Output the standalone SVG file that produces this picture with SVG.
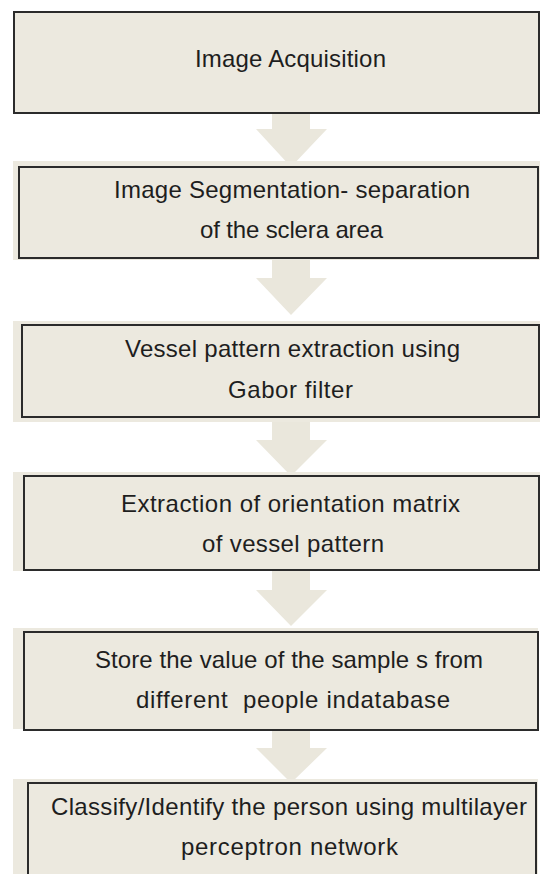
<svg xmlns="http://www.w3.org/2000/svg" width="540" height="874" viewBox="0 0 540 874">
<style>
.bg{fill:#ECE9DF;stroke:none}
.box{fill:#ECE9DF;stroke:#2b2b2b;stroke-width:2}
.arrow{fill:#EAE7DC;stroke:none}
text{font-family:"Liberation Sans",Arial,sans-serif;font-size:24px;fill:#1e1e1e;text-anchor:middle;white-space:pre}
</style>
<rect width="540" height="874" fill="#ffffff"/>
<g id="connectors">
<polygon class="arrow" points="272,113 310,113 310,129 327,129 291,167 256,129 272,129"/>
<polygon class="arrow" points="272,258 310,258 310,278 327,278 291,315 256,278 272,278"/>
<polygon class="arrow" points="272,417 310,417 310,440 327,440 291,476 256,440 272,440"/>
<polygon class="arrow" points="272,570 310,570 310,590 327,590 291,626 256,590 272,590"/>
<polygon class="arrow" points="272,730 310,730 310,748 327,748 291,783 256,748 272,748"/>
</g>
<g id="node1">
<rect class="box" x="14" y="12" width="525" height="101"/>
<text x="290.5" y="67" textLength="191">Image Acquisition</text>
</g>
<g id="node2">
<rect class="bg" x="13" y="161" width="527" height="99"/>
<rect class="box" x="19" y="167" width="519" height="91"/>
<text x="292" y="198" textLength="356">Image Segmentation- separation</text>
<text x="291.5" y="238" textLength="183">of the sclera area</text>
</g>
<g id="node3">
<rect class="bg" x="13" y="321" width="527" height="101"/>
<rect class="box" x="22" y="325" width="517" height="92"/>
<text x="292.5" y="357" textLength="335">Vessel pattern extraction using</text>
<text x="290.5" y="398" textLength="125">Gabor filter</text>
</g>
<g id="node4">
<rect class="bg" x="13" y="472" width="527" height="99"/>
<rect class="box" x="24" y="476" width="515" height="94"/>
<text x="290.5" y="512" textLength="339">Extraction of orientation matrix</text>
<text x="293" y="552" textLength="182">of vessel pattern</text>
</g>
<g id="node5">
<rect class="bg" x="13" y="628" width="525" height="101"/>
<rect class="box" x="24" y="632" width="514" height="98"/>
<text x="289" y="668" textLength="388">Store the value of the sample s from</text>
<text x="293" y="708" textLength="314">different  people indatabase</text>
</g>
<g id="node6">
<rect class="bg" x="13" y="779" width="525" height="100"/>
<rect class="box" x="28" y="783" width="508" height="95"/>
<text x="289" y="815" textLength="476">Classify/Identify the person using multilayer</text>
<text x="289.5" y="855" textLength="217">perceptron network</text>
</g>
</svg>
